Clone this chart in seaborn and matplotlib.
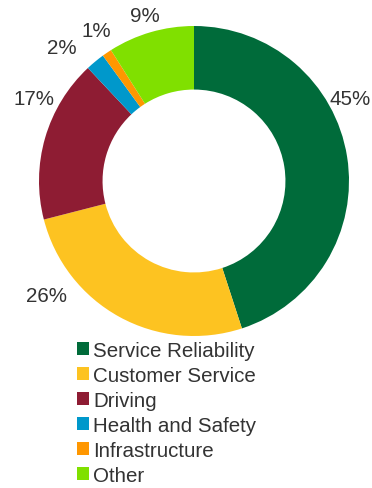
import matplotlib
matplotlib.use("Agg")
import matplotlib.pyplot as plt
from matplotlib.patches import Patch
import seaborn as sns

categories = ["Service Reliability", "Customer Service", "Driving",
              "Health and Safety", "Infrastructure", "Other"]
shares = [45, 26, 17, 2, 1, 9]
value_labels = ["45%", "26%", "17%", "2%", "1%", "9%"]

sns.set_theme(style="white")
plt.rcParams["font.family"] = ["Liberation Sans", "DejaVu Sans"]

palette = sns.color_palette(["#006B3A", "#FDC321", "#8E1C33",
                             "#0098CB", "#FF9700", "#80E000"])

W, H = 372, 489
fig = plt.figure(figsize=(W / 100, H / 100), dpi=100)
fig.patch.set_facecolor("white")

# donut centred at (194, 182) px with outer radius 155 px
cx, cy, r = 194, 182, 155
ax = fig.add_axes([(cx - r) / W, (H - cy - r) / H, 2 * r / W, 2 * r / H])
wedges, _ = ax.pie(shares, colors=palette, startangle=90, counterclock=False,
                   radius=1.0, wedgeprops=dict(width=0.41, edgecolor="none"))
ax.set_xlim(-1, 1)
ax.set_ylim(-1, 1)
ax.set_aspect("equal")
ax.axis("off")

# label anchor positions in units of the outer radius
label_pos = [(1.01, 0.53), (-0.95, -0.74), (-1.03, 0.53),
             (-0.85, 0.86), (-0.63, 0.97), (-0.32, 1.07)]
for txt, (lx, ly) in zip(value_labels, label_pos):
    ax.text(lx, ly, txt, ha="center", va="center", fontsize=14.8,
            color="#333333", clip_on=False)

handles = [Patch(facecolor=c, edgecolor="none") for c in palette]
leg = fig.legend(handles, categories, loc="upper left",
                 bbox_to_anchor=(77 / W, 1 - 342 / H), frameon=False,
                 fontsize=14.8, handlelength=0.6, handleheight=0.6,
                 handletextpad=0.2, labelspacing=0.29, borderpad=0,
                 borderaxespad=0)
for t in leg.get_texts():
    t.set_color("#333333")

fig.savefig("out.png", dpi=100, facecolor="white")
